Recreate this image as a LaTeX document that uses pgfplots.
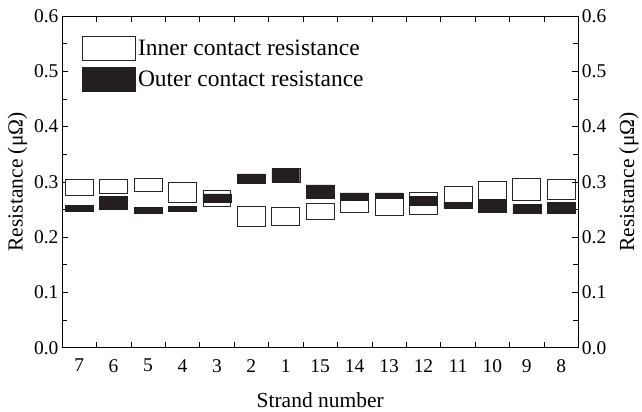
\documentclass[border=0pt]{standalone}
\usepackage{fontspec}
\setmainfont{Liberation Serif}
\usepackage{pgfplots}
\usepackage{pgfplotstable}
\pgfplotsset{compat=1.18}
\definecolor{ink}{HTML}{231F20}
\pgfplotstableread{
x il ih ol oh
0 0.2760 0.3050 0.2470 0.2570
1 0.2790 0.3050 0.2510 0.2740
2 0.2820 0.3065 0.2430 0.2536
3 0.2625 0.2994 0.2476 0.2560
4 0.2560 0.2839 0.2625 0.2780
5 0.2190 0.2560 0.2976 0.3143
6 0.2220 0.2542 0.3000 0.3238
7 0.2315 0.2607 0.2708 0.2946
8 0.2446 0.2798 0.2667 0.2798
9 0.2399 0.2798 0.2702 0.2798
10 0.2417 0.2815 0.2577 0.2732
11 0.2530 0.2923 0.2530 0.2625
12 0.2458 0.3000 0.2458 0.2685
13 0.2673 0.3054 0.2435 0.2589
14 0.2685 0.3036 0.2435 0.2625
}\datatable
\newcommand{\tic}{\fontsize{19.5}{22}\selectfont}
\newcommand{\lab}{\fontsize{21.5}{24}\selectfont}
\begin{document}
\begin{tikzpicture}
\pgfplotsset{
  common/.style={
    width=517pt, height=332pt, scale only axis,
    xmin=-0.5, xmax=14.5, ymin=0, ymax=0.6,
    ytick={0,0.1,...,0.6}, minor y tick num=1,
    yticklabel style={/pgf/number format/.cd, fixed, fixed zerofill, precision=1},
    /pgf/number format/assume math mode=true,
    tick label style={font=\tic},
    tick align=inside, major tick length=6pt, minor tick length=5pt,
    tick style={black, line width=0.6pt},
    axis line style={black, line width=0.8pt},
    ybar stacked, bar width=28pt, bar shift=0pt,
  }
}
\begin{axis}[common, name=ax,
  xtick={-0.5,0.5,...,14.5}, x tick label as interval,
  xticklabels={7,6,5,4,3,2,1,15,14,13,12,11,10,9,8},
  xticklabel style={yshift=-8pt},
  xtick pos=both, ytick pos=left,
  xlabel={\lab Strand number},
  xlabel style={yshift=-13pt},
  ylabel={\lab Resistance (μΩ)},
  ylabel style={yshift=0pt},
]
\addplot[draw=none, fill=none, forget plot] table[x=x, y=il] {\datatable};
\addplot[draw=black!85, fill=white, line width=0.8pt, forget plot] table[x=x, y expr=\thisrow{ih}-\thisrow{il}] {\datatable};
\end{axis}
\begin{axis}[common,
  axis x line=none, axis y line*=right,
  ylabel near ticks, yticklabel pos=right,
  ylabel={\lab Resistance (μΩ)},
  ylabel style={yshift=-6pt},
  legend style={draw=none, fill=none, at={(rel axis cs:0.039,0.94)}, anchor=north west,
    font=\fontsize{23.5}{27}\selectfont, inner sep=0pt, row sep=6pt,
    /tikz/every even column/.append style={column sep=13pt}},
  legend cell align=left,
  legend image code/.code={\draw[#1] (0pt,-12pt) rectangle (53pt,12pt);},
]
\addlegendimage{draw=black!85, fill=white, line width=0.8pt}
\addlegendentry{Inner contact resistance}
\addplot[draw=none, fill=none, forget plot] table[x=x, y=ol] {\datatable};
\addplot[draw=ink, fill=ink, line width=0.4pt] table[x=x, y expr=\thisrow{oh}-\thisrow{ol}] {\datatable};
\addlegendentry{Outer contact resistance}
\end{axis}
\path ([xshift=-62pt,yshift=-64pt]ax.south west) rectangle ([xshift=63pt,yshift=16pt]ax.north east);
\end{tikzpicture}
\end{document}
